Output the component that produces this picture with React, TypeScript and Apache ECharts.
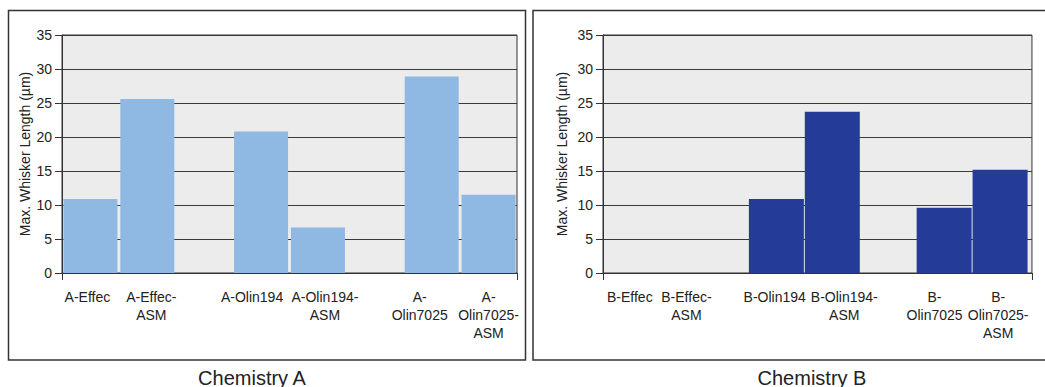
import React, { useEffect, useRef } from "react";
import * as echarts from "echarts";

// Category keys; the two blank keys leave empty slots between the material pairs.
const categoriesA = ["A-Effec", "A-Effec-ASM", "gapA1", "A-Olin194", "A-Olin194-ASM", "gapA2", "A-Olin7025", "A-Olin7025-ASM"];
const categoriesB = ["B-Effec", "B-Effec-ASM", "gapB1", "B-Olin194", "B-Olin194-ASM", "gapB2", "B-Olin7025", "B-Olin7025-ASM"];

// Axis labels as printed (line-broken), one per category
const tickLabelsA = ["A-Effec", "A-Effec-\nASM", "", "A-Olin194", "A-Olin194-\nASM", "", "A-\nOlin7025", "A-\nOlin7025-\nASM"];
const tickLabelsB = ["B-Effec", "B-Effec-\nASM", "", "B-Olin194", "B-Olin194-\nASM", "", "B-\nOlin7025", "B-\nOlin7025-\nASM"];

// Max. whisker length (µm); null = no bar
const valuesA = [10.9, 25.6, null, 20.8, 6.7, null, 28.9, 11.5];
const valuesB = [null, null, null, 10.9, 23.7, null, 9.6, 15.2];

const yTicks = [0, 5, 10, 15, 20, 25, 30, 35];
const panelTitles = ["Chemistry A", "Chemistry B"];
const yAxisTitle = "Max. Whisker Length (µm)";

// Layout: horizontal nudges (px) of individual tick labels, and bar-axis ranges
const LABEL_SHIFT_A = [-3, 4, 0, -9, 7, 0, -12, 0];
const LABEL_SHIFT_B = [0, 3, 0, -16, 0, 0, -17, -7];
const BAR_RANGE_A: [number, number] = [-0.5, 7.5];
const BAR_RANGE_B: [number, number] = [-0.1, 7.57];

const FONT = '"Liberation Sans", Arial, Helvetica, sans-serif';
const TEXT = "#222222";
const LINE = "#333333";
const LABEL_SIZE = 14;
const LABEL_LH = 18;

function richFor(shifts: number[]) {
  const rich: Record<string, object> = {};
  shifts.forEach((d, i) => {
    rich["s" + i] = {
      fontSize: LABEL_SIZE,
      lineHeight: LABEL_LH,
      color: TEXT,
      fontFamily: FONT,
      padding: d < 0 ? [0, -2 * d, 0, 0] : [0, 0, 0, 2 * d],
    };
  });
  return rich;
}

export default function App() {
  const ref = useRef<HTMLDivElement>(null);

  useEffect(() => {
    if (!ref.current) return;
    const chart = echarts.init(ref.current, undefined, { renderer: "svg" });

    // Category axis: carries the axis line, end ticks and the tick labels
    const labelAxis = (gridIndex: number, cats: string[], labels: string[], shifts: number[]) => ({
      type: "category" as const,
      gridIndex,
      data: cats,
      axisLine: { show: true, onZero: false, lineStyle: { color: LINE, width: 1 } },
      axisTick: {
        show: true,
        length: 7,
        interval: (i: number) => i === 0,
        lineStyle: { color: LINE },
      },
      axisLabel: {
        interval: 0,
        margin: 15,
        fontSize: LABEL_SIZE,
        lineHeight: LABEL_LH,
        color: TEXT,
        fontFamily: FONT,
        formatter: (v: string) => {
          const i = cats.indexOf(v);
          const text = labels[i] ?? "";
          if (!text) return "";
          return text
            .split("\n")
            .map((line) => `{s${i}|${line}}`)
            .join("\n");
        },
        rich: richFor(shifts),
      },
      splitLine: { show: false },
    });

    // Hidden value axis on the same grid: places the bars by category index
    const barAxis = (gridIndex: number, range: [number, number]) => ({
      type: "value" as const,
      gridIndex,
      min: range[0],
      max: range[1],
      show: false,
      axisLine: { onZero: false },
      splitLine: { show: false },
    });

    const yAxisFor = (gridIndex: number, nameGap: number) => ({
      type: "value" as const,
      gridIndex,
      min: yTicks[0],
      max: yTicks[yTicks.length - 1],
      interval: yTicks[1] - yTicks[0],
      name: yAxisTitle,
      nameLocation: "middle" as const,
      nameGap,
      nameTextStyle: { fontSize: 14, color: TEXT, fontFamily: FONT },
      axisLine: { show: true, onZero: false, lineStyle: { color: LINE, width: 1 } },
      axisTick: { show: true, length: 7, lineStyle: { color: LINE } },
      axisLabel: { margin: 10, fontSize: 14, color: TEXT, fontFamily: FONT },
      splitLine: { show: true, lineStyle: { color: "#3a3a3a", width: 1 } },
    });

    const gridStyle = {
      show: true,
      backgroundColor: "#ececec",
      borderColor: LINE,
      borderWidth: 1,
      containLabel: false,
    };

    const toPoints = (vals: (number | null)[]) =>
      vals.map((v, i) => (v == null ? null : [i, v])).filter((p) => p !== null);

    const titleText = (x: number, text: string) => ({
      type: "text",
      x,
      y: 378,
      style: {
        text,
        fontSize: 20,
        fontFamily: FONT,
        fill: TEXT,
        textAlign: "center",
        textVerticalAlign: "middle",
      },
    });

    chart.setOption({
      animation: false,
      backgroundColor: "#ffffff",
      textStyle: { fontFamily: FONT },
      grid: [
        { ...gridStyle, left: 62, top: 35, width: 455, height: 238 },
        { ...gridStyle, left: 603, top: 35, width: 437, height: 238 },
      ],
      xAxis: [
        labelAxis(0, categoriesA, tickLabelsA, LABEL_SHIFT_A),
        barAxis(0, BAR_RANGE_A),
        labelAxis(1, categoriesB, tickLabelsB, LABEL_SHIFT_B),
        barAxis(1, BAR_RANGE_B),
      ],
      yAxis: [yAxisFor(0, 30), yAxisFor(1, 34)],
      series: [
        {
          type: "bar",
          xAxisIndex: 1,
          yAxisIndex: 0,
          data: toPoints(valuesA),
          barWidth: 54,
          itemStyle: { color: "#8fb8e2" },
        },
        {
          type: "bar",
          xAxisIndex: 3,
          yAxisIndex: 1,
          data: toPoints(valuesB),
          barWidth: 55,
          itemStyle: { color: "#243c97" },
        },
      ],
      graphic: [
        {
          type: "rect",
          shape: { x: 8.5, y: 10.5, width: 517, height: 349.5 },
          style: { fill: "none", stroke: LINE, lineWidth: 1.5 },
          silent: true,
        },
        {
          type: "rect",
          shape: { x: 533, y: 10.5, width: 530, height: 349.5 },
          style: { fill: "none", stroke: LINE, lineWidth: 1.5 },
          silent: true,
        },
        titleText(252, panelTitles[0]),
        titleText(812, panelTitles[1]),
      ],
    });

    return () => chart.dispose();
  }, []);

  return (
    <div
      ref={ref}
      style={{ position: "fixed", left: 0, top: 0, width: 1045, height: 387, background: "#fff" }}
    />
  );
}
